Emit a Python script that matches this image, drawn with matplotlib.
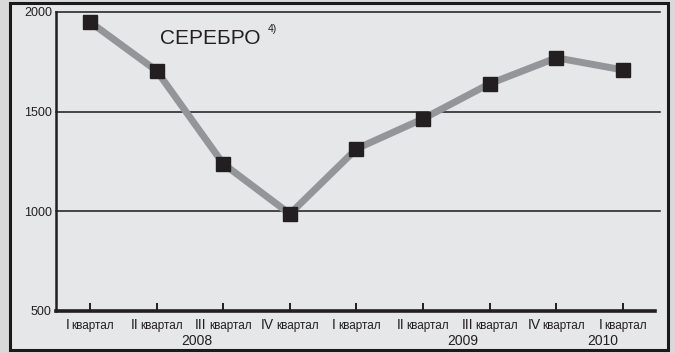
import numpy as np
import matplotlib.pyplot as plt
from matplotlib.patches import Rectangle
from matplotlib.offsetbox import TextArea, HPacker, AnnotationBbox

# Silver price by quarter
quarters = ["I", "II", "III", "IV", "I", "II", "III", "IV", "I"]
prices = [1950, 1705, 1238, 986, 1313, 1464, 1640, 1770, 1709]
years = ["2008", "2009", "2010"]
year_pos = [1.6, 5.6, 7.7]
yticks = [500, 1000, 1500, 2000]

narrow = ["Liberation Sans Narrow", "Liberation Sans", "DejaVu Sans"]
plt.rcParams["font.family"] = ["Liberation Sans", "DejaVu Sans"]

fig = plt.figure(figsize=(6.75, 3.53), dpi=100, facecolor="#d9d9d9")

# light panel with a black frame behind the plot
panel = Rectangle((10 / 675, 3 / 353), 658 / 675, 347 / 353, transform=fig.transFigure,
                  facecolor="#e6e7e9", edgecolor="#1a1a1a", linewidth=2.2, zorder=-5)
fig.patches.append(panel)

ax = fig.add_axes([56 / 675, 42.3 / 353, 599 / 675, 298.7 / 353])
ax.set_facecolor("none")

x = np.arange(len(prices))
ax.plot(x, prices, color="#939598", linewidth=5, zorder=3, solid_joinstyle="miter")
ax.plot(x, prices, linestyle="none", marker="s", markersize=10.5,
        color="#231f20", zorder=4, clip_on=False)

for v in yticks[1:]:
    ax.axhline(v, xmin=0, xmax=1.008, color="#1a1a1a", linewidth=1.1, zorder=1, clip_on=False)

ax.set_xlim(-0.51, 8.48)
ax.set_ylim(500, 2000)
ax.set_yticks(yticks)
ax.set_yticklabels([str(v) for v in yticks], fontsize=9, color="#231f20")
ax.tick_params(axis="y", length=0, pad=3)
ax.set_xticks(x)
ax.set_xticklabels([])
ax.tick_params(axis="x", direction="in", length=6, width=1.4, color="#231f20")

for s in ["top", "right"]:
    ax.spines[s].set_visible(False)
ax.spines["left"].set_linewidth(1.8)
ax.spines["left"].set_color("#231f20")
ax.spines["bottom"].set_linewidth(2.6)
ax.spines["bottom"].set_color("#231f20")

# quarter labels: roman numeral larger than the word
for xi, q in zip(x, quarters):
    box = HPacker(children=[
        TextArea(q, textprops=dict(fontsize=10, family=narrow, color="#231f20")),
        TextArea("квартал", textprops=dict(fontsize=8.5, family=narrow, color="#231f20")),
    ], align="baseline", pad=0, sep=1.5)
    ab = AnnotationBbox(box, (xi, 500), xycoords="data", xybox=(0, -5.5),
                        boxcoords="offset points", box_alignment=(0.5, 1),
                        frameon=False, annotation_clip=False)
    ax.add_artist(ab)

for yr, p in zip(years, year_pos):
    ax.annotate(yr, (p, 500), xytext=(0, -17), textcoords="offset points",
                ha="center", va="top", fontsize=10, family=narrow, color="#231f20",
                annotation_clip=False)

fig.text(160 / 675, 1 - 44 / 353, "СЕРЕБРО", fontsize=15, color="#231f20",
         ha="left", va="baseline")
fig.text(268 / 675, 1 - 32 / 353, "4)", fontsize=7.5, color="#231f20",
         ha="left", va="baseline")

fig.savefig("out.png", dpi=100, facecolor=fig.get_facecolor())
